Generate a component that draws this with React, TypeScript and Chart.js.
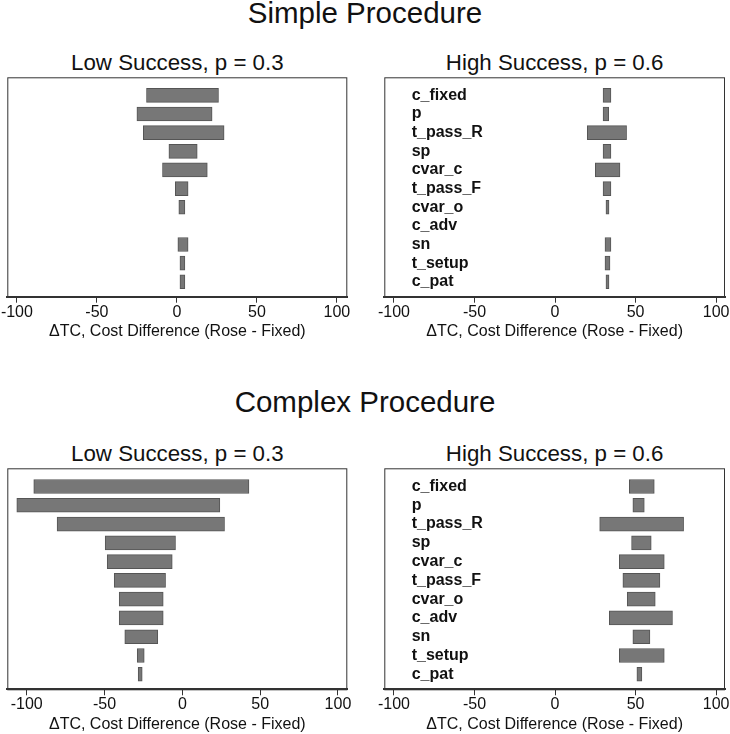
import React, { useEffect, useRef } from "react";
import { Chart, registerables } from "chart.js";

Chart.register(...registerables);

const FONT = "'Liberation Sans', Arial, Helvetica, sans-serif";
Chart.defaults.font.family = FONT;

// ---------- data ----------
const categories = [
  "c_fixed",
  "p",
  "t_pass_R",
  "sp",
  "cvar_c",
  "t_pass_F",
  "cvar_o",
  "c_adv",
  "sn",
  "t_setup",
  "c_pat",
];
const xTickValues = [-100, -50, 0, 50, 100];
const axisTitle = "ΔTC, Cost Difference (Rose - Fixed)";

// Simple procedure, low success (p = 0.3)
const simpleLowFrom = [-19, -25, -21, -5, -9, -1, 1.2, null, 0.6, 1.9, 1.9];
const simpleLowTo = [26, 22, 29.5, 12.7, 19, 7, 5, null, 7, 5, 5];
// Simple procedure, high success (p = 0.6)
const simpleHighFrom = [29.8, 29.8, 20, 29.8, 25, 29.8, 31.6, null, 31, 31, 31.6];
const simpleHighTo = [34.7, 33.3, 44.4, 34.7, 40.3, 34.7, 33.5, null, 34.7, 34.1, 33.5];
// Complex procedure, low success (p = 0.3)
const complexLowFrom = [-95.5, -106.4, -80.5, -49.6, -48.3, -43.8, -40.6, -40.6, -37, -29, -28.4];
const complexLowTo = [42.8, 24.1, 27.1, -4.4, -6.5, -10.8, -12.3, -12.3, -15.8, -24.5, -25.8];
// Complex procedure, high success (p = 0.6)
const complexHighFrom = [46.1, 48.3, 27.7, 47.5, 39.9, 42.1, 44.8, 33.7, 48.3, 39.9, 50.8];
const complexHighTo = [61.6, 55.4, 79.8, 59.7, 67.8, 65.1, 62.2, 72.9, 58.9, 67.8, 53.9];

// ---------- plugins ----------
const boxPlugin = {
  id: "boxPlugin",
  afterDatasetsDraw(chart: any) {
    const { ctx, chartArea } = chart;
    const { left, top, right, bottom } = chartArea;
    ctx.save();
    ctx.strokeStyle = "#333";
    ctx.lineWidth = 1;
    ctx.strokeRect(left + 0.5, top + 0.5, right - left - 1, bottom - top);
    ctx.restore();
  },
};

const labelPlugin = {
  id: "labelPlugin",
  afterDatasetsDraw(chart: any, _args: any, opts: any) {
    if (!opts || !opts.show) return;
    const { ctx, chartArea, scales } = chart;
    ctx.save();
    ctx.fillStyle = "#111";
    ctx.font = `bold 16px ${FONT}`;
    ctx.textAlign = "left";
    ctx.textBaseline = "middle";
    categories.forEach((c, i) => {
      ctx.fillText(c, chartArea.left + opts.indent, scales.y.getPixelForValue(i));
    });
    ctx.restore();
  },
};

type PanelProps = {
  from: (number | null)[];
  to: (number | null)[];
  xMin: number;
  xMax: number;
  showLabels: boolean;
  left: number;
  top: number;
  width: number;
  height: number;
  padding: { left: number; right: number; top: number; bottom: number };
};

function Panel(props: PanelProps) {
  const ref = useRef<HTMLCanvasElement | null>(null);
  useEffect(() => {
    if (!ref.current) return;
    const data: any[] = [];
    categories.forEach((_, i) => {
      const a = props.from[i];
      const b = props.to[i];
      if (a === null || b === null) return;
      data.push({ y: i, x: [a, b] });
    });
    const chart = new Chart(ref.current, {
      type: "bar",
      data: {
        datasets: [
          {
            data,
            backgroundColor: "#777777",
            borderColor: "#555555",
            borderWidth: 1,
            borderSkipped: false,
            barThickness: 14,
          },
        ],
      },
      options: {
        indexAxis: "y",
        animation: false,
        responsive: false,
        layout: { padding: props.padding },
        plugins: {
          legend: { display: false },
          tooltip: { enabled: false },
          labelPlugin: { show: props.showLabels, indent: 27.4 },
        } as any,
        scales: {
          y: {
            type: "linear",
            display: false,
            offset: false,
            reverse: true,
            min: -0.97,
            max: 10.8,
            grid: { offset: false },
          },
          x: {
            type: "linear",
            min: props.xMin,
            max: props.xMax,
            afterBuildTicks: (s: any) => {
              s.ticks = xTickValues.map((v) => ({ value: v }));
            },
            ticks: {
              autoSkip: false,
              maxRotation: 0,
              padding: 0,
              color: "#111",
              font: { size: 16 },
            },
            grid: {
              display: true,
              drawOnChartArea: false,
              drawTicks: true,
              tickLength: 6,
              color: "#333",
            },
            border: { display: true, color: "#333", width: 2 },
            title: {
              display: true,
              text: axisTitle,
              color: "#111",
              font: { size: 16, lineHeight: 1.2 },
              padding: 0,
            },
          },
        },
      },
      plugins: [boxPlugin, labelPlugin],
    } as any);
    return () => chart.destroy();
  }, []);
  return (
    <canvas
      ref={ref}
      width={props.width}
      height={props.height}
      style={{
        position: "absolute",
        left: props.left,
        top: props.top,
        width: props.width,
        height: props.height,
      }}
    />
  );
}

const textStyle = (size: number, top: number, center: number): React.CSSProperties => ({
  position: "absolute",
  top,
  left: center - 250,
  width: 500,
  textAlign: "center",
  fontFamily: FONT,
  fontSize: size,
  lineHeight: `${size}px`,
  color: "#111",
  whiteSpace: "nowrap",
});

export default function App() {
  const padTopL = { left: 7.3, right: 17.7, top: 17.3, bottom: 8.9 };
  const padTopR = { left: 19.3, right: 5, top: 17.3, bottom: 8.9 };
  const padBotL = { left: 7.3, right: 17.7, top: 18.3, bottom: 0.3 };
  const padBotR = { left: 19.3, right: 5, top: 18.3, bottom: 0.3 };
  return (
    <div
      style={{
        position: "absolute",
        left: 0,
        top: 0,
        width: 730,
        height: 734,
        background: "#fff",
        overflow: "hidden",
      }}
    >
      <div style={textStyle(29.5, -1.6, 365)}>Simple Procedure</div>
      <div style={textStyle(22.3, 52.2, 177.3)}>Low Success, p = 0.3</div>
      <div style={textStyle(22.3, 52.2, 554.6)}>High Success, p = 0.6</div>
      <Panel from={simpleLowFrom} to={simpleLowTo} xMin={-106} xMax={106.5} showLabels={false}
        left={0} top={60} width={365} height={290} padding={padTopL} />
      <Panel from={simpleHighFrom} to={simpleHighTo} xMin={-106} xMax={105.5} showLabels={true}
        left={365} top={60} width={365} height={290} padding={padTopR} />

      <div style={textStyle(29.5, 386.8, 365)}>Complex Procedure</div>
      <div style={textStyle(22.3, 443.2, 177.3)}>Low Success, p = 0.3</div>
      <div style={textStyle(22.3, 443.2, 554.6)}>High Success, p = 0.6</div>
      <Panel from={complexLowFrom} to={complexLowTo} xMin={-112.5} xMax={106} showLabels={false}
        left={0} top={450} width={365} height={284} padding={padBotL} />
      <Panel from={complexHighFrom} to={complexHighTo} xMin={-106} xMax={105.5} showLabels={true}
        left={365} top={450} width={365} height={284} padding={padBotR} />
    </div>
  );
}
